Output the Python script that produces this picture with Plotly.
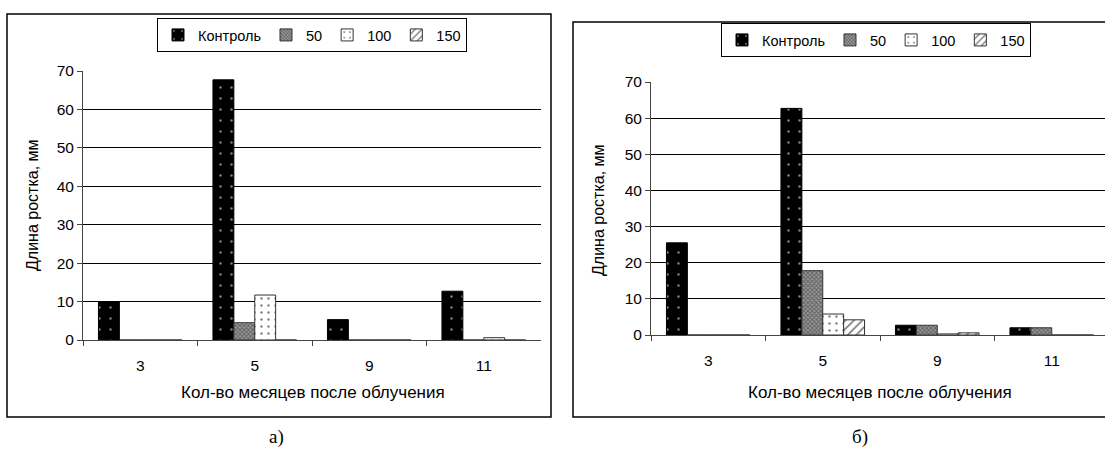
import plotly.graph_objects as go

W, H = 1105, 452

categories = ["3", "5", "9", "11"]
series_names = ["Контроль", "50", "100", "150"]

a_control = [10.0, 67.7, 5.3, 12.7]
a_50 = [0.0, 4.5, 0.0, 0.0]
a_100 = [0.0, 11.7, 0.0, 0.6]
a_150 = [0.0, 0.0, 0.0, 0.0]

b_control = [25.5, 62.7, 2.7, 2.0]
b_50 = [0.0, 17.8, 2.7, 2.0]
b_100 = [0.0, 5.8, 0.3, 0.0]
b_150 = [0.0, 4.2, 0.6, 0.0]

y_ticks = [0, 10, 20, 30, 40, 50, 60, 70]
x_title = "Кол-во месяцев после облучения"
y_title = "Длина ростка, мм"
panel_labels = ["а)", "б)"]

FONT = "Liberation Sans, Arial, sans-serif"
SERIF = "Liberation Serif, Times New Roman, serif"

styles = [
    dict(color="black", line=dict(color="black", width=1),
         pattern=dict(shape=".", bgcolor="black", fgcolor="white", size=11, solidity=0.04)),
    dict(color="white", line=dict(color="#333", width=1),
         pattern=dict(shape="x", bgcolor="#9a9a9a", fgcolor="#222", size=3, solidity=0.5)),
    dict(color="white", line=dict(color="#333", width=1),
         pattern=dict(shape=".", bgcolor="white", fgcolor="black", size=7, solidity=0.09)),
    dict(color="white", line=dict(color="#333", width=1),
         pattern=dict(shape="/", bgcolor="white", fgcolor="black", size=6, solidity=0.3)),
]

def px(x):
    return x / W

def py(y):
    return 1 - y / H

fig = go.Figure()

panels = [
    ([a_control, a_50, a_100, a_150], "x", "y", "legend"),
    ([b_control, b_50, b_100, b_150], "x2", "y2", "legend2"),
]
for vals, xa, ya, lg in panels:
    for name, v, st in zip(series_names, vals, styles):
        fig.add_trace(go.Bar(x=categories, y=v, name=name, marker=st,
                             xaxis=xa, yaxis=ya, legend=lg))

axis_common = dict(zeroline=False, linecolor="#444", linewidth=1,
                   ticks="outside", ticklen=5, tickcolor="#444",
                   tickfont=dict(family=FONT, size=15.5, color="black"), automargin=False)

fig.update_layout(
    width=W, height=H,
    margin=dict(l=0, r=0, t=0, b=0),
    paper_bgcolor="white", plot_bgcolor="white",
    barmode="group", bargap=0.27, bargroupgap=0,
    font=dict(family=FONT, size=14, color="black"),
    xaxis=dict(domain=[px(83), px(541)], type="category", range=[-0.5, 3.5],
               tickson="boundaries", ticklabelstandoff=11, anchor="y",
               showgrid=False, **axis_common),
    yaxis=dict(domain=[py(340), py(71)], range=[0, 70], tickvals=y_ticks,
               showgrid=True, gridcolor="black", gridwidth=1, anchor="x", **axis_common),
    xaxis2=dict(domain=[px(651), 1], type="category", range=[-0.5, 3.465],
                tickson="boundaries", ticklabelstandoff=11, anchor="y2",
                showgrid=False, **axis_common),
    yaxis2=dict(domain=[py(335), py(82)], range=[0, 70], tickvals=y_ticks,
                showgrid=True, gridcolor="black", gridwidth=1, anchor="x2", **axis_common),
    legend=dict(orientation="h", x=px(312), xanchor="center", y=py(18), yanchor="top",
                bordercolor="black", borderwidth=1, bgcolor="white",
                font=dict(family=FONT, size=14.5), itemwidth=30),
    legend2=dict(orientation="h", x=px(876), xanchor="center", y=py(23), yanchor="top",
                 bordercolor="black", borderwidth=1, bgcolor="white",
                 font=dict(family=FONT, size=14.5), itemwidth=30),
)

# panel frames
fig.add_shape(type="rect", xref="paper", yref="paper",
              x0=px(7), x1=px(551), y0=py(417), y1=py(14),
              line=dict(color="black", width=1.5), layer="below")
fig.add_shape(type="rect", xref="paper", yref="paper",
              x0=px(573), x1=px(1120), y0=py(417), y1=py(22),
              line=dict(color="black", width=1.5), layer="below")

# axis titles and panel labels
def note(text, x, y, size, family=FONT, angle=0):
    fig.add_annotation(text=text, xref="paper", yref="paper", x=px(x), y=py(y),
                       xanchor="center", yanchor="middle", showarrow=False,
                       textangle=angle, font=dict(family=family, size=size, color="black"))

note(x_title, 313, 392, 17)
note(x_title, 880, 392, 17)
note(y_title, 32, 205, 16, angle=-90)
note(y_title, 599, 210, 16, angle=-90)
note(panel_labels[0], 276, 437, 19, SERIF)
note(panel_labels[1], 860, 437, 19, SERIF)

fig.write_html("out.html")
